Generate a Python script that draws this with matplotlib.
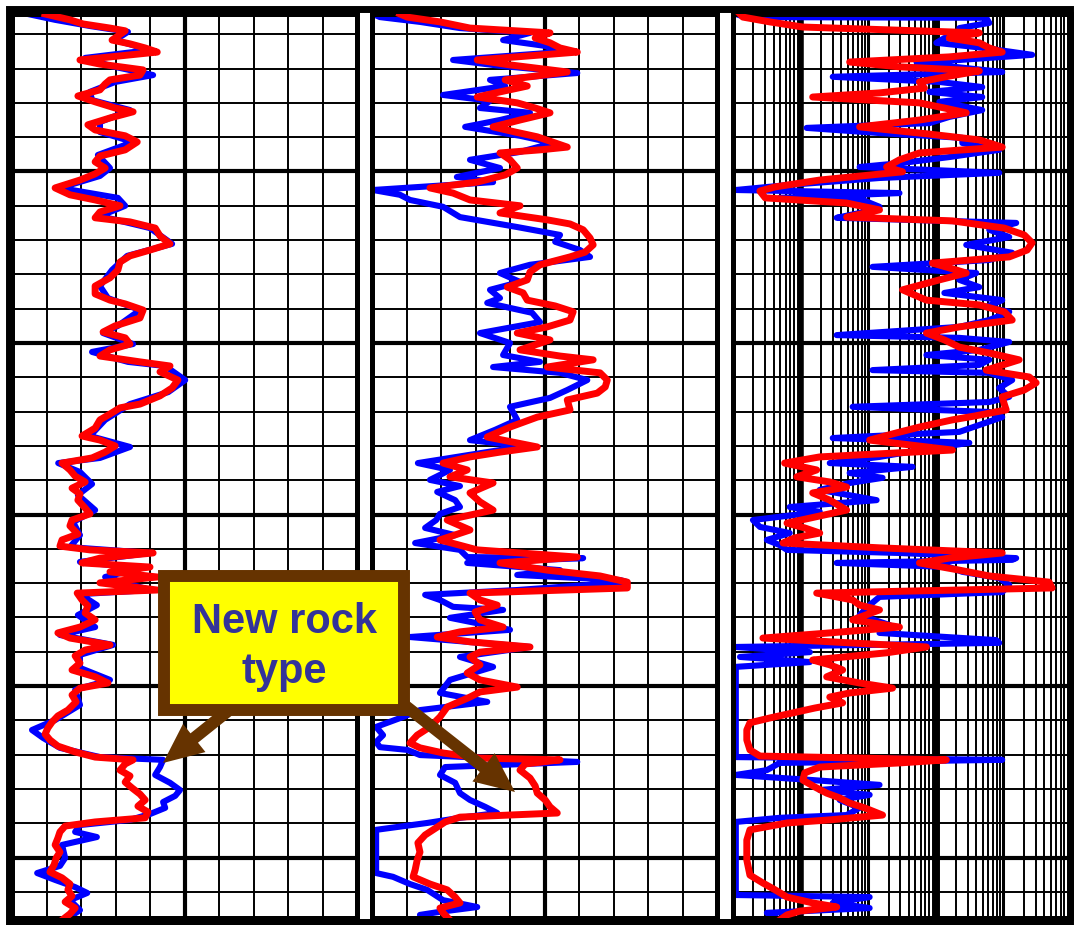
import matplotlib.pyplot as plt
from matplotlib.patches import Rectangle, FancyArrow

# --- Track 1: gamma ray, two runs (depth in ft, value in % of track scale) ---
gr_red_depth = [4.1, 5.8, 7.0, 8.2, 9.0, 10.5, 11.7, 12.8, 14.0, 15.2,
                16.3, 17.5, 18.7, 20.4, 21.9, 23.3, 24.5, 26.2, 28.0, 29.7,
                31.5, 32.6, 34.4, 36.4, 37.9, 39.6, 41.4, 43.7, 45.5, 47.2,
                49.0, 50.7, 52.5, 54.8, 56.8, 58.3, 60.0, 61.8, 63.5, 64.7,
                66.5, 68.8, 71.1, 72.9, 74.6, 76.4, 78.7, 81.0, 83.4, 85.7,
                87.5, 88.6, 90.4, 92.7, 95.0, 96.8, 98.5, 100.3, 102.0, 103.8,
                105.5, 106.7, 108.4, 110.8, 113.1, 115.4, 117.8, 118.9, 120.7, 122.4,
                124.8, 127.1, 128.3, 130.0, 131.8, 133.5, 135.0, 137.0, 138.8, 140.5,
                142.3, 144.0, 145.8, 148.1, 149.8, 151.6, 153.3, 155.7, 157.4, 159.2,
                160.3, 161.2, 162.7, 164.1, 165.3, 166.7, 168.2, 169.9, 172.0, 172.9,
                174.9, 176.6, 178.7, 180.7, 182.8, 184.5, 186.0, 188.0, 189.5, 191.2,
                193.3, 195.3, 197.3, 199.1, 200.6, 202.6, 204.6, 207.0, 208.7, 210.5,
                212.2, 214.0, 215.7, 217.5, 219.2, 220.7, 221.5, 222.7, 224.5, 226.2,
                228.0, 229.7, 231.5, 233.2, 235.0, 236.7, 238.4, 239.6, 240.8, 242.5,
                244.3, 246.3, 248.4, 250.1, 252.1, 254.2, 255.9, 257.7, 259.4, 261.2,
                262.9, 264.7, 266.4, 268.2]
gr_red = [9.6, 16.8, 20.6, 28.4, 32.8, 30.7, 29.0, 34.2, 38.6, 42.1,
          31.3, 19.7, 25.5, 38.0, 37.1, 28.4, 27.0, 25.5, 19.1, 24.1,
          29.9, 35.1, 28.4, 22.0, 24.1, 32.8, 36.3, 32.8, 25.5, 24.1,
          27.0, 24.1, 19.7, 12.5, 16.8, 24.1, 31.3, 25.5, 24.1, 34.2,
          41.5, 42.9, 45.8, 40.0, 34.2, 31.3, 30.7, 28.4, 24.1, 24.1,
          28.4, 32.8, 38.0, 37.1, 29.9, 26.4, 32.8, 34.2, 28.4, 25.5,
          37.1, 45.8, 42.9, 48.1, 46.4, 42.9, 37.1, 31.3, 28.4, 25.5,
          24.1, 20.3, 25.5, 29.9, 27.0, 23.2, 14.5, 16.8, 18.3, 21.2,
          17.4, 19.7, 19.1, 21.2, 22.6, 17.4, 16.8, 19.1, 14.5, 13.9,
          22.6, 40.9, 25.5, 20.3, 40.0, 28.4, 42.1, 25.5, 42.1, 18.9,
          20.3, 22.0, 21.2, 24.1, 19.7, 13.3, 16.8, 28.4, 21.2, 18.3,
          19.7, 17.4, 24.1, 27.8, 19.7, 17.4, 18.6, 16.2, 13.3, 11.6,
          10.4, 9.6, 11.0, 13.3, 18.3, 24.1, 35.1, 32.8, 31.3, 34.2,
          32.8, 34.8, 37.1, 38.6, 36.5, 39.4, 38.6, 24.1, 15.4, 13.9,
          13.3, 12.5, 13.9, 12.8, 12.2, 11.0, 14.5, 16.8, 16.2, 17.4,
          15.4, 18.3, 16.8, 14.5]

gr_blue_depth = [4.1, 5.8, 7.6, 9.3, 11.7, 14.6, 16.9, 19.2, 21.9, 23.9,
                 26.8, 29.2, 32.1, 35.6, 38.5, 41.4, 45.2, 49.0, 51.3, 54.8,
                 57.7, 60.0, 63.0, 66.5, 71.1, 74.6, 78.7, 83.4, 86.9, 90.4,
                 95.0, 97.1, 100.3, 102.6, 105.5, 106.7, 110.8, 114.3, 117.8, 122.4,
                 127.1, 130.3, 133.5, 135.0, 137.6, 141.1, 144.3, 148.7, 152.2, 156.0,
                 159.5, 161.2, 163.8, 165.6, 168.2, 172.0, 173.2, 176.4, 179.3, 182.8,
                 185.1, 188.0, 190.9, 194.7, 198.2, 201.1, 205.5, 209.9, 212.8, 215.1,
                 218.0, 220.7, 221.5, 223.6, 225.9, 228.2, 230.3, 232.0, 233.8, 235.5,
                 237.3, 239.0, 240.5, 242.5, 244.0, 246.3, 250.1, 252.4, 254.5, 256.5,
                 258.6, 260.3, 262.4, 265.3, 268.2]
gr_blue = [4.6, 12.5, 22.6, 33.6, 29.9, 40.0, 21.2, 28.4, 40.9, 29.9,
           22.6, 23.2, 34.2, 25.5, 25.5, 35.1, 24.9, 28.4, 25.5, 13.9,
           30.7, 32.8, 25.5, 40.0, 46.4, 33.4, 29.0, 25.5, 27.8, 37.1,
           30.7, 26.4, 35.1, 23.2, 33.6, 44.4, 50.2, 45.3, 34.2, 27.0,
           22.6, 34.2, 25.5, 13.4, 19.7, 23.2, 19.1, 24.1, 17.7, 19.7,
           16.8, 40.0, 19.7, 37.1, 27.0, 40.0, 19.7, 24.6, 19.1, 24.1,
           13.9, 29.3, 19.7, 19.7, 28.4, 18.3, 19.7, 12.5, 5.8, 9.0,
           13.9, 25.5, 43.8, 42.9, 41.5, 45.8, 48.7, 47.3, 43.8, 44.4,
           40.0, 34.2, 19.7, 18.3, 24.6, 14.5, 15.4, 13.9, 7.3, 12.5,
           18.3, 21.8, 16.8, 19.7, 15.4]

# --- Track 2: porosity, two runs ---
phi_red_depth = [4.1, 5.0, 6.4, 8.2, 9.6, 11.1, 12.5, 14.0, 15.2, 16.3,
                 17.5, 18.9, 21.0, 22.4, 23.3, 25.1, 26.8, 28.3, 30.0, 31.5,
                 32.9, 35.0, 37.0, 38.5, 39.9, 42.9, 43.7, 44.6, 46.6, 49.0,
                 51.0, 53.1, 54.8, 56.3, 58.3, 60.0, 62.1, 64.1, 65.3, 67.0,
                 69.4, 71.4, 73.5, 74.9, 77.2, 79.3, 81.6, 83.7, 85.4, 87.5,
                 89.2, 90.9, 93.3, 95.3, 97.1, 99.1, 102.0, 103.8, 104.9, 107.0,
                 108.7, 110.8, 112.8, 114.6, 116.6, 119.5, 121.6, 124.5, 127.4, 130.3,
                 131.8, 133.2, 135.0, 137.0, 139.0, 140.8, 143.7, 146.3, 148.7, 151.6,
                 154.5, 157.4, 160.3, 162.4, 164.1, 166.2, 167.9, 169.7, 171.4, 172.9,
                 174.9, 176.4, 178.4, 180.7, 182.8, 184.2, 185.7, 187.1, 188.6, 190.1,
                 191.5, 193.8, 196.2, 198.2, 200.3, 201.7, 203.2, 206.1, 209.0, 211.9,
                 214.3, 216.6, 218.0, 219.5, 221.0, 221.5, 222.7, 224.5, 226.8, 229.1,
                 231.2, 233.2, 235.2, 237.0, 238.2, 239.6, 241.1, 243.4, 245.7, 248.4,
                 250.7, 253.6, 255.6, 257.7, 259.4, 261.5, 263.2, 264.7, 266.1, 268.2]
phi_red = [8.1, 10.2, 19.7, 28.4, 51.6, 47.3, 51.6, 54.5, 59.5, 45.8,
           30.5, 39.7, 56.6, 45.8, 38.6, 45.0, 37.1, 30.5, 42.1, 47.3,
           51.6, 42.9, 35.1, 41.5, 47.9, 56.6, 48.7, 37.1, 40.0, 42.1,
           38.6, 30.5, 16.8, 23.5, 28.4, 42.9, 37.1, 50.8, 57.4, 61.2,
           63.2, 64.1, 61.8, 57.4, 48.7, 45.8, 45.0, 39.2, 43.8, 45.0,
           53.1, 58.3, 57.4, 50.8, 42.1, 51.6, 42.9, 54.5, 64.1, 50.8,
           66.1, 68.2, 67.6, 65.3, 56.6, 57.4, 47.9, 40.0, 33.4, 47.9,
           37.1, 28.4, 20.6, 27.6, 22.6, 35.1, 28.4, 31.3, 35.1, 21.8,
           28.4, 19.7, 30.5, 59.5, 37.1, 50.8, 66.1, 74.0, 74.0, 28.4,
           31.3, 36.3, 29.9, 31.3, 38.0, 25.5, 18.9, 28.4, 45.8, 31.3,
           28.4, 31.3, 27.6, 31.3, 42.1, 31.3, 28.4, 21.8, 19.7, 16.8,
           13.1, 11.0, 13.9, 20.6, 31.3, 54.5, 44.4, 42.9, 45.8, 47.3,
           47.9, 50.2, 51.6, 53.7, 25.5, 21.2, 18.9, 15.4, 13.3, 13.9,
           13.1, 12.5, 11.9, 16.8, 21.8, 24.1, 25.5, 19.7, 20.6, 22.6]

phi_blue_depth = [4.1, 5.0, 6.4, 8.2, 9.6, 11.7, 13.4, 15.2, 17.5, 19.2,
                  21.3, 23.3, 25.1, 27.7, 29.4, 31.5, 32.9, 35.0, 37.0, 39.6,
                  41.7, 44.3, 46.6, 49.0, 51.6, 53.1, 55.4, 56.8, 58.3, 60.3,
                  63.3, 66.2, 68.5, 70.5, 72.9, 74.9, 77.2, 79.6, 82.2, 84.5,
                  86.9, 88.3, 91.2, 93.9, 97.1, 100.0, 103.5, 105.5, 107.0, 108.7,
                  110.8, 113.7, 116.0, 118.6, 122.4, 125.3, 128.3, 130.3, 131.2, 135.0,
                  137.0, 139.9, 141.7, 143.4, 145.8, 147.8, 149.8, 151.6, 153.9, 156.0,
                  158.3, 160.3, 162.4, 162.7, 164.1, 166.2, 167.6, 169.1, 169.7, 172.0,
                  173.4, 174.9, 176.9, 177.8, 180.1, 183.6, 185.7, 188.6, 191.5, 194.4,
                  198.2, 202.0, 204.6, 207.0, 209.0, 211.9, 214.3, 216.3, 217.8, 218.6,
                  220.1, 222.1, 223.6, 225.9, 228.2, 231.2, 233.2, 235.2, 237.0, 238.4,
                  239.9, 241.9, 247.8, 254.5, 255.6, 257.7, 259.4, 262.4, 264.4, 265.8,
                  266.7, 268.2]
phi_blue = [0.3, 2.3, 13.9, 25.5, 45.8, 38.0, 50.2, 54.5, 23.5, 37.1,
            59.5, 34.2, 38.6, 20.6, 34.2, 31.3, 45.8, 37.1, 27.0, 42.9,
            52.5, 42.9, 28.4, 37.1, 24.6, 35.1, 0.3, 8.1, 11.0, 20.6,
            25.5, 42.1, 54.5, 53.1, 60.3, 63.2, 45.8, 37.1, 42.9, 34.2,
            37.1, 33.4, 46.4, 48.7, 31.3, 40.0, 38.0, 48.7, 35.1, 54.5,
            62.4, 56.6, 51.6, 40.0, 42.1, 35.7, 28.4, 45.8, 37.1, 13.3,
            22.6, 16.8, 25.5, 18.9, 24.1, 25.5, 19.7, 18.6, 15.4, 24.1,
            12.5, 25.5, 27.6, 61.2, 27.6, 54.5, 42.1, 71.9, 74.0, 42.1,
            15.4, 19.7, 23.5, 38.0, 22.6, 40.0, 11.0, 45.8, 25.5, 35.1,
            22.6, 19.7, 33.4, 13.9, 9.0, 1.2, 3.2, 1.2, 2.3, 10.2,
            13.9, 59.5, 21.2, 19.7, 24.1, 25.5, 28.4, 32.8, 36.3, 25.5,
            16.0, 1.2, 1.2, 1.2, 6.1, 11.0, 16.0, 20.6, 30.5, 19.7,
            13.9, 16.8]

# --- Track 3: resistivity, two runs (ohm-m, log scale) ---
res_red_depth = [4.1, 5.0, 6.4, 7.9, 8.7, 9.6, 11.1, 12.5, 14.0, 15.2,
                 16.6, 18.1, 19.5, 20.7, 22.2, 23.9, 25.7, 27.1, 28.3, 30.0,
                 31.5, 32.9, 35.0, 37.0, 39.1, 40.8, 42.9, 44.6, 46.6, 48.7,
                 50.1, 52.5, 54.5, 55.7, 57.7, 59.2, 61.2, 63.3, 64.4, 66.5,
                 68.5, 70.8, 72.9, 74.9, 76.7, 78.1, 79.6, 81.6, 84.5, 86.0,
                 87.5, 88.9, 90.9, 93.3, 95.3, 97.1, 99.1, 101.2, 102.9, 104.9,
                 106.7, 107.9, 109.9, 111.6, 113.7, 115.7, 117.8, 119.5, 121.3, 122.4,
                 124.5, 126.2, 128.3, 129.7, 131.2, 132.3, 133.2, 135.0, 137.0, 139.0,
                 140.5, 142.0, 143.7, 145.8, 148.7, 150.4, 152.5, 153.9, 155.4, 156.8,
                 158.3, 159.7, 161.2, 162.7, 164.1, 166.2, 167.9, 169.7, 171.4, 172.9,
                 174.9, 176.4, 177.8, 180.7, 182.8, 184.5, 186.0, 187.4, 188.6, 190.3,
                 192.4, 193.8, 195.3, 197.3, 199.1, 200.6, 202.0, 203.2, 204.9, 206.4,
                 207.8, 209.3, 210.7, 212.8, 215.7, 218.6, 220.4, 221.5, 222.4, 223.6,
                 225.3, 227.4, 229.4, 231.2, 232.6, 234.1, 235.5, 237.6, 239.0, 239.9,
                 241.9, 244.9, 250.7, 255.1, 257.4, 259.4, 261.5, 263.2, 264.4, 265.6,
                 266.7, 268.2]
res_red = [0.127, 0.14, 0.35, 1.08, 18.7, 440, 158, 440, 618, 960,
           158, 5.32, 29, 440, 158, 57.3, 67.9, 14.7, 1.51, 57.3,
           134, 282, 57.3, 7.47, 80.5, 440, 960, 57.3, 29, 18.7,
           32.2, 1.92, 0.42, 0.25, 0.30, 4.80, 14.7, 4.80, 176, 1030,
           2030, 2660, 2244, 1219, 89, 158, 282, 113, 32.2, 48.3,
           72.6, 440, 1030, 1349, 223, 72.6, 134, 223, 618, 1710,
           867, 557, 2404, 3050, 2030, 960, 1030, 1100, 371, 176,
           57.3, 26.2, 10.5, 40.8, 176, 14.7, 1.92, 0.58, 1.73, 0.88,
           2.70, 4.80, 1.51, 2.70, 4.80, 1.92, 0.63, 1.15, 1.92, 0.82,
           0.55, 14.7, 960, 158, 57.3, 223, 618, 4740, 5250, 1.73,
           5.89, 7.47, 14.7, 5.89, 29, 2.70, 0.277, 5.32, 72.6, 18.7,
           1.51, 2.70, 4.19, 2.43, 7.47, 22.9, 5.32, 2.70, 4.19, 1.62,
           0.77, 0.35, 0.178, 0.16, 0.16, 0.178, 0.25, 143, 29, 1.92,
           1.15, 1.08, 1.62, 2.43, 3.79, 5.32, 8.85, 16.3, 2.70, 0.63,
           0.178, 0.16, 0.16, 0.178, 0.277, 0.42, 0.63, 1.51, 3.42, 0.97,
           0.63, 0.49]

res_blue_depth = [4.1, 5.0, 5.2, 6.7, 8.2, 9.6, 11.1, 12.5, 14.0, 16.0,
                  17.5, 18.1, 19.5, 21.0, 22.4, 23.9, 25.4, 26.8, 28.3, 29.7,
                  32.1, 34.1, 35.9, 37.3, 38.8, 40.2, 41.7, 43.7, 45.8, 47.5,
                  48.7, 50.4, 51.9, 53.9, 55.4, 56.3, 57.7, 58.3, 60.3, 62.1,
                  63.5, 65.0, 67.0, 69.1, 71.4, 73.7, 75.8, 77.8, 79.6, 81.6,
                  83.7, 85.4, 87.5, 89.5, 90.9, 93.3, 95.3, 97.7, 98.5, 99.7,
                  102.0, 103.5, 104.9, 106.4, 107.9, 108.7, 110.8, 113.1, 115.7, 117.2,
                  118.6, 120.1, 121.6, 123.9, 125.9, 127.7, 129.1, 131.2, 133.2, 135.0,
                  136.1, 137.9, 139.3, 140.8, 142.8, 145.8, 147.8, 149.2, 151.6, 153.6,
                  155.4, 157.4, 158.9, 160.3, 161.2, 162.7, 163.2, 164.1, 165.3, 166.7,
                  168.5, 170.5, 172.6, 174.0, 176.4, 179.3, 182.2, 184.5, 186.6, 187.4,
                  188.6, 190.1, 191.5, 193.0, 194.4, 204.1, 215.7, 220.7, 221.5, 222.4,
                  224.5, 225.9, 227.4, 228.8, 230.3, 231.7, 233.2, 235.5, 237.6, 238.4,
                  239.6, 250.7, 260.9, 261.5, 263.2, 264.7, 266.1, 268.2]
res_blue = [0.11, 0.15, 557, 618, 223, 313, 134, 102, 521, 2660,
            223, 51.8, 188, 960, 2.99, 113, 486, 80.5, 486, 113,
            486, 158, 80.5, 1.23, 14.7, 247, 247, 867, 158, 32.2,
            7.47, 867, 14.7, 0.69, 0.11, 29, 0.49, 8.27, 14.7, 7.47,
            3.42, 1545, 618, 1219, 282, 1349, 618, 11.6, 397, 223,
            440, 134, 960, 557, 1219, 618, 223, 3.42, 223, 1219,
            440, 72.6, 618, 440, 11.6, 618, 1349, 867, 1219, 618,
            5.89, 618, 960, 440, 223, 2.99, 313, 57.3, 14.7, 2.70,
            45.2, 5.32, 16.3, 5.32, 1.92, 13.3, 0.69, 1.92, 0.197, 0.25,
            0.69, 0.317, 0.49, 0.63, 29, 1545, 1349, 3.42, 158, 247,
            867, 1219, 960, 14.7, 10.5, 7.47, 20.7, 14.7, 783, 867,
            0.11, 1.37, 0.127, 1.37, 0.11, 0.11, 0.11, 0.11, 960, 0.49,
            0.317, 0.11, 1.51, 14.7, 1.92, 10.5, 3.79, 7.47, 4.80, 0.49,
            0.11, 0.11, 0.11, 10.5, 2.99, 10.5, 0.317, 0.49]

# --- Layout (pixels) and styling ---
W, H = 1074, 925
TOP, BOTTOM = 14, 918
TRACKS = [(12, 357), (372, 717), (733, 1071)]
DEPTH_TOP, DEPTH_BOTTOM = 4.1, 267.6
GRID_LW, MAJOR_LW = 1.4, 3.0
RED, BLUE = '#ff0000', '#0000ff'
BROWN, YELLOW, TEXT_BLUE = '#663300', '#ffff00', '#333399'

fig = plt.figure(figsize=(W / 100, H / 100), dpi=100)


def add_track(x0, x1, log=False):
    ax = fig.add_axes([x0 / W, 1 - BOTTOM / H, (x1 - x0) / W, (BOTTOM - TOP) / H])
    if log:
        ax.set_xscale('log')
        ax.set_xlim(0.1, 1e4)
        for dec in (0.1, 1, 10, 100, 1000):
            for m in range(2, 10):
                ax.axvline(dec * m, color='black', lw=GRID_LW, zorder=1)
        for dec, lw in ((1, 4.0), (10, 2.2), (100, 5.0), (1000, 2.2)):
            ax.axvline(dec, color='black', lw=lw, zorder=1)
    else:
        ax.set_xlim(0, 100)
        for v in range(10, 100, 10):
            ax.axvline(v, color='black', lw=MAJOR_LW if v == 50 else GRID_LW, zorder=1)
    ax.set_ylim(DEPTH_BOTTOM, DEPTH_TOP)
    for d in range(10, 270, 10):
        ax.axhline(d, color='black', lw=MAJOR_LW if d % 50 == 0 else GRID_LW, zorder=1)
    ax.tick_params(which='both', length=0, labelbottom=False, labelleft=False)
    for s in ax.spines.values():
        s.set_linewidth(3.6)
    return ax


ax1 = add_track(*TRACKS[0])
ax2 = add_track(*TRACKS[1])
ax3 = add_track(*TRACKS[2], log=True)

# blue run underneath, red run on top
for ax, (bd, bv), (rd, rv) in (
        (ax1, (gr_blue_depth, gr_blue), (gr_red_depth, gr_red)),
        (ax2, (phi_blue_depth, phi_blue), (phi_red_depth, phi_red)),
        (ax3, (res_blue_depth, res_blue), (res_red_depth, res_red))):
    ax.plot(bv, bd, color=BLUE, lw=4.4, zorder=2)
    ax.plot(rv, rd, color=RED, lw=5.0, zorder=3)

# --- Frame, callout box and arrows (drawn in pixel space) ---
ov = fig.add_axes([0, 0, 1, 1])
ov.set_xlim(0, W)
ov.set_ylim(H, 0)
ov.axis('off')
ov.add_patch(Rectangle((8.5, 8.5), 1061.5, 913, fill=False, ec='black', lw=5))

for x, y, dx, dy in ((238, 703, -75, 60), (398, 700, 117, 92)):
    ov.add_patch(FancyArrow(x, y, dx, dy, width=12, head_width=36, head_length=40,
                            length_includes_head=True, color=BROWN, lw=0, zorder=3))
ov.add_patch(Rectangle((164, 576), 240, 134, fc=YELLOW, ec=BROWN, lw=8.6, zorder=4))
ov.text(284, 633, 'New rock', ha='center', va='baseline', fontsize=30,
        fontweight='bold', family='Liberation Sans', color=TEXT_BLUE, zorder=5)
ov.text(284, 683, 'type', ha='center', va='baseline', fontsize=30,
        fontweight='bold', family='Liberation Sans', color=TEXT_BLUE, zorder=5)

fig.savefig('out.png', dpi=100)
